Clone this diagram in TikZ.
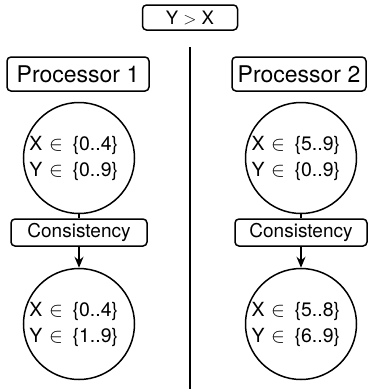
\documentclass[tikz,border=0pt]{standalone}
\usepackage{fontspec}
\setmainfont{TeX Gyre Heros}
\usetikzlibrary{arrows.meta}

\begin{document}
\begin{tikzpicture}[x=1pt,y=-1pt,
  box/.style={draw,line width=1.5pt,rounded corners=4pt,inner sep=0pt},
  dom/.style={draw,circle,line width=1.5pt,inner sep=0pt,minimum size=111pt,
    text width=99pt,align=left,font=\fontsize{19.5}{26}\selectfont},
  link/.style={line width=1.5pt}]

  \useasboundingbox (0,0) rectangle (368,389);

  \node[box,minimum width=95pt,minimum height=25pt,font=\fontsize{18.5}{20}\selectfont]
    (cstr) at (190,17.5) {Y $>$ X};

  % divider between the two processors
  \coordinate (divtop) at (190,47);
  \coordinate (divbot) at (190,389);
  \draw[link] (divtop) -- (divbot);

  \node[box,minimum width=142pt,minimum height=34pt,font=\fontsize{23}{25}\selectfont]
    (proc1) at (78,74) {Processor 1};
  \node[box,minimum width=134pt,minimum height=34pt,font=\fontsize{23}{25}\selectfont]
    (proc2) at (299,74) {Processor 2};

  \node[dom] (before1) at (79,158)
    {X $\in$\enspace\{0..4\}\\Y $\in$\enspace\{0..9\}};
  \node[dom] (before2) at (301,158)
    {X $\in$\enspace\{5..9\}\\Y $\in$\enspace\{0..9\}};

  \node[box,minimum width=136pt,minimum height=27pt,font=\fontsize{19}{21}\selectfont]
    (cons1) at (79,232.5) {Consistency};
  \node[box,minimum width=132pt,minimum height=27pt,font=\fontsize{19}{21}\selectfont]
    (cons2) at (301,232.5) {Consistency};

  \node[dom] (after1) at (79,324)
    {X $\in$\enspace\{0..4\}\\Y $\in$\enspace\{1..9\}};
  \node[dom] (after2) at (301,324)
    {X $\in$\enspace\{5..8\}\\Y $\in$\enspace\{6..9\}};

  \draw[link] (before1) -- (cons1);
  \draw[link] (before2) -- (cons2);
  \draw[link,-{Stealth[length=11pt,width=9pt]}] (cons1) -- (after1);
  \draw[link,-{Stealth[length=11pt,width=9pt]}] (cons2) -- (after2);

\end{tikzpicture}
\end{document}
